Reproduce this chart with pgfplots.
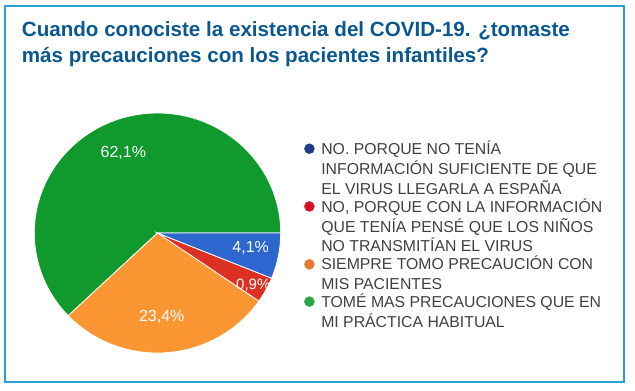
\documentclass[border=0pt]{standalone}
\usepackage{pgfplots}
\pgfplotsset{compat=1.18}
\usepackage{fontspec}
\setmainfont{Liberation Sans}
\definecolor{titleblue}{HTML}{0A5890}
\definecolor{framecol}{HTML}{2AA0D8}
\definecolor{legtext}{HTML}{404040}
\definecolor{piegreen}{HTML}{109A2E}
\definecolor{pieorange}{HTML}{FB9632}
\definecolor{piered}{HTML}{DC3022}
\definecolor{pieblue}{HTML}{2C66CF}
\definecolor{dotblue}{HTML}{1F3C88}
\definecolor{dotred}{HTML}{D50F25}
\definecolor{dotorange}{HTML}{E97A35}
\definecolor{dotgreen}{HTML}{27A745}

% share of the circle taken by each slice as drawn (percent), counter-clockwise from east
\def\sGreen{62.1}
\def\sOrange{28.3}
\def\sRed{3.45}
\def\sBlue{6.15}
\pgfmathsetmacro\aOne{3.6*\sGreen}
\pgfmathsetmacro\aTwo{\aOne+3.6*\sOrange}
\pgfmathsetmacro\aThree{\aTwo+3.6*\sRed}
\pgfmathsetmacro\aFour{\aThree+3.6*\sBlue}

\newcommand\legtext[1]{\textcolor{legtext}{\parbox[t]{300pt}{\fontsize{15.8}{19.26}\selectfont #1}}}
\newcommand\laststrut{\rule[-4.3pt]{0pt}{0pt}}

\begin{document}
\begin{tikzpicture}
\path (0pt,0pt) rectangle (635pt,391pt);
\begin{axis}[
  at={(0pt,0pt)}, anchor=south west,
  x=1pt, y=1pt, xmin=0, xmax=635, ymin=0, ymax=391,
  scale only axis, hide axis, clip=false,
  legend style={at={(axis cs:304,250.6)}, anchor=north west, draw=none, fill=none,
    inner sep=0pt, row sep=0pt, column sep=0pt,
    cells={anchor=base west},
    nodes={inner sep=0pt, text depth=}},
  legend image code/.code={\fill[#1] (0pt,5.6pt) circle (5pt); \path (-5pt,0pt) (11.7pt,0pt);},
]
% frame
\draw[framecol, line width=2pt] (axis cs:5,385) rectangle (axis cs:624,9);
% title
\node[anchor=base west, text=titleblue, font=\fontsize{20.6}{24}\selectfont\bfseries, inner sep=0pt]
  at (axis cs:21.7,354) {Cuando conociste la existencia del COVID-19. ¿tomaste};
\node[anchor=base west, text=titleblue, font=\fontsize{20.6}{24}\selectfont\bfseries, inner sep=0pt]
  at (axis cs:21.7,328) {más precauciones con los pacientes infantiles?};
% pie slices
\fill[piegreen, draw=white, line width=0.8pt] (axis cs:157.5,158) -- ++(0:123.2pt and 120pt)
  arc[start angle=0, end angle=\aOne, x radius=123.2pt, y radius=120pt] -- cycle;
\fill[pieorange, draw=white, line width=0.8pt] (axis cs:157.5,158) -- ++(\aOne:123.2pt and 120pt)
  arc[start angle=\aOne, end angle=\aTwo, x radius=123.2pt, y radius=120pt] -- cycle;
\fill[piered, draw=white, line width=0.8pt] (axis cs:157.5,158) -- ++(\aTwo:123.2pt and 120pt)
  arc[start angle=\aTwo, end angle=\aThree, x radius=123.2pt, y radius=120pt] -- cycle;
\fill[pieblue, draw=white, line width=0.8pt] (axis cs:157.5,158) -- ++(\aThree:123.2pt and 120pt)
  arc[start angle=\aThree, end angle=\aFour, x radius=123.2pt, y radius=120pt] -- cycle;
% slice labels
\node[text=white, font=\fontsize{16}{16}\selectfont, inner sep=0pt] at (axis cs:123.3,237.7) {62,1\%};
\node[text=white, font=\fontsize{16}{16}\selectfont, inner sep=0pt] at (axis cs:250.7,143.3) {4,1\%};
\node[text=white, font=\fontsize{15}{15}\selectfont, inner sep=0pt] at (axis cs:253.3,106) {0,9\%};
\node[text=white, font=\fontsize{16}{16}\selectfont, inner sep=0pt] at (axis cs:161.7,74.3) {23,4\%};
% legend
\addlegendimage{dotblue}
\addlegendentry{\legtext{\strut NO. PORQUE NO TENÍA\\INFORMACIÓN SUFICIENTE DE QUE\\EL VIRUS LLEGARLA A ESPAÑA\laststrut}}
\addlegendimage{dotred}
\addlegendentry{\legtext{\strut NO, PORQUE CON LA INFORMACIÓN\\QUE TENÍA PENSÉ QUE LOS NIÑOS\\NO TRANSMITÍAN EL VIRUS\laststrut}}
\addlegendimage{dotorange}
\addlegendentry{\legtext{\strut SIEMPRE TOMO PRECAUCIÓN CON\\MIS PACIENTES\laststrut}}
\addlegendimage{dotgreen}
\addlegendentry{\legtext{\strut TOMÉ MAS PRECAUCIONES QUE EN\\MI PRÁCTICA HABITUAL\laststrut}}
\end{axis}
\end{tikzpicture}
\end{document}
